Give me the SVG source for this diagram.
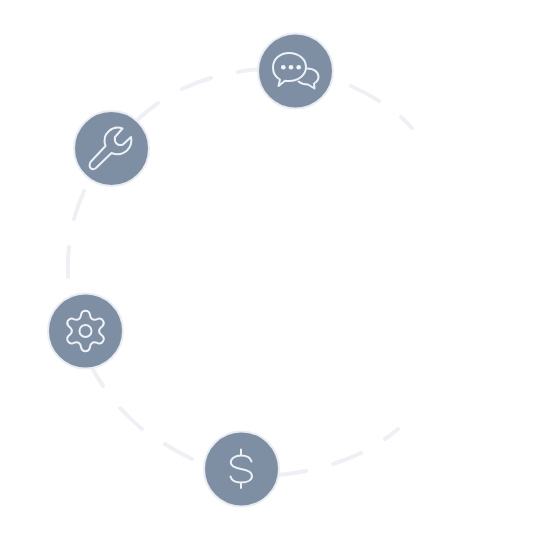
<svg xmlns="http://www.w3.org/2000/svg" width="541" height="542" viewBox="0 0 541 542">
<style>
.dash{fill:none;stroke:#eef0f5;stroke-width:4;stroke-linecap:round}
.disc{fill:#7e8fa3;stroke:#e9edf3;stroke-width:2}
.icon{fill:none;stroke:#eef1f5;stroke-width:2;stroke-linecap:round;stroke-linejoin:round}
.dot{fill:#f4f6f9}
</style>
<rect width="541" height="542" fill="#fff"/>
<g id="connectors">
<path class="dash" d="M238 72A203 203 0 0 1 262 69"/>
<path class="dash" d="M182 89A203 203 0 0 1 211 78"/>
<path class="dash" d="M135 122A203 203 0 0 1 158 103"/>
<path class="dash" d="M74 219A203 203 0 0 1 84 191"/>
<path class="dash" d="M68 277A203 203 0 0 1 69 247"/>
<path class="dash" d="M103 386A203 203 0 0 1 91 366"/>
<path class="dash" d="M142 429A203 203 0 0 1 120 408"/>
<path class="dash" d="M192 459A203 203 0 0 1 165 444"/>
<path class="dash" d="M275 475A203 203 0 0 0 306 471"/>
<path class="dash" d="M333 464A203 203 0 0 0 361 453"/>
<path class="dash" d="M385 439A203 203 0 0 0 398 429"/>
<path class="dash" d="M351 86A203 203 0 0 1 379 101"/>
<path class="dash" d="M401 117A203 203 0 0 1 412 128"/>
</g>
<g id="node-chat">
<circle class="disc" cx="295.500" cy="71" r="37.500"/>
<path class="icon" d="M280 79.500C275.500 77 273 72.500 273 67.500C273 59 280 53 289 53C298.500 53 306 59 306 67C306 75 298.500 81 289 81C287.500 81 286.500 81 285 80.700L278.500 86Z"/>
<path class="icon" d="M307.500 68.500C314 68.500 318.500 72 318.500 77C318.500 80 316.500 82 314 83.500L314.500 88.500L308 84.500C304.500 84.500 301.500 83.800 298.500 81.500"/>
<circle class="dot" cx="283.300" cy="67.300" r="2.300"/>
<circle class="dot" cx="291" cy="67.300" r="2.300"/>
<circle class="dot" cx="298.700" cy="67.300" r="2.300"/>
</g>
<g id="node-wrench">
<circle class="disc" cx="111.500" cy="148.500" r="37.500"/>
<path class="icon" d="M91 161.500L105.500 146C103.500 140 105 134.500 109 131C113 127.500 118.500 127 122.500 128.500L115 137C114.500 140 115 142 116.500 143.500C118 145 120.500 145.500 123 144.500L131 137C132 142 130.500 147 127 150.500C123 154 117.500 155.500 111.500 153L96 168C94 169.500 92 169.500 90.500 168C89 166.500 89.500 163 91 161.500Z"/>
</g>
<g id="node-gear">
<circle class="disc" cx="85.500" cy="331" r="37.500"/>
<path class="icon" d="M81.200 314A4.500 4.500 0 0 1 89.800 314Q90.600 322 98 318.800A4.500 4.500 0 0 1 102.400 326.300Q95.800 331 102.400 335.700A4.500 4.500 0 0 1 98 343.200Q90.600 340 89.800 348A4.500 4.500 0 0 1 81.200 348Q80.400 340 73 343.200A4.500 4.500 0 0 1 68.600 335.700Q75.200 331 68.600 326.300A4.500 4.500 0 0 1 73 318.800Q80.400 322 81.200 314Z"/>
<circle class="icon" cx="85.500" cy="331" r="6"/>
</g>
<g id="node-dollar">
<circle class="disc" cx="241.500" cy="469" r="37.500"/>
<path class="icon" d="M251.500 461.500C250.500 457.800 246.500 455.500 241 455.500C235 455.500 230.800 458.500 230.800 462.500C230.800 466.500 235 468 241 469C247.500 470 252 472 252 476C252 480 247.500 482.500 241 482.500C235.500 482.500 231.500 480 230.500 476.500M241 449.500V455.500M241 482.500V488"/>
</g>
</svg>
